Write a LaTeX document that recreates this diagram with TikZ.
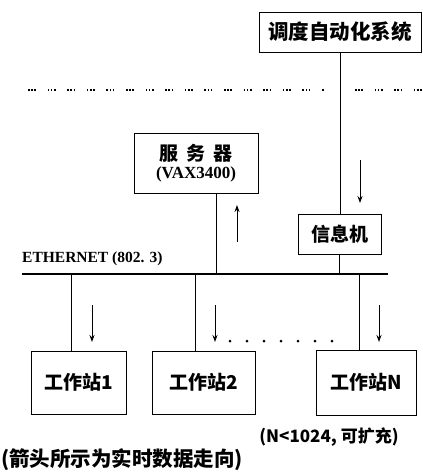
\documentclass[tikz,border=0pt]{standalone}
\usepackage{fontspec}
\setmainfont{Liberation Serif}
\newfontfamily\cjk{Noto Sans CJK SC}
\usetikzlibrary{arrows.meta}
\begin{document}
\begin{tikzpicture}[x=1pt,y=-1pt,
  box/.style={draw,line width=1pt,inner sep=0pt,font=\cjk\bfseries\fontsize{19}{21}\selectfont},
  link/.style={line width=0.9pt},
  flow/.style={line width=1pt,-{Stealth[length=7pt,width=5pt]}},
  bus/.style={line width=1.8pt},
  dotsep/.style={line width=2pt,dash pattern=on 1.6pt off 1.6pt on 1.6pt off 1.6pt on 1.6pt off 11.6pt}]
\useasboundingbox (0,0) rectangle (423,472);
% boxes
\node[box,minimum width=162pt,minimum height=40pt,font=\cjk\bfseries\fontsize{20.5}{22}\selectfont] (sys) at (340,32) {调度自动化系统};
\node[box,minimum width=124pt,minimum height=60pt,align=center] (srv) at (196,163)
  {服\hspace{8pt}务\hspace{8pt}器\\[-3pt]{\rmfamily\bfseries\fontsize{17}{19}\selectfont(VAX3400)}};
\node[box,minimum width=83pt,minimum height=40pt] (info) at (339.5,234) {信息机};
\node[box,minimum width=95pt,minimum height=63pt] (ws1) at (78.5,382.5) {工作站1};
\node[box,minimum width=103pt,minimum height=63pt] (ws2) at (203.5,382.5) {工作站2};
\node[box,minimum width=100pt,minimum height=65pt] (wsn) at (366,382.5) {工作站N};
% dotted separator
\coordinate (dA) at (28,90); \coordinate (dB) at (325,90);
\coordinate (dC) at (355,90); \coordinate (dD) at (423,90);
\draw[dotsep] (dA) -- (dB);
\draw[dotsep] (dC) -- (dD);
% ethernet bus
\coordinate (eL) at (22,274); \coordinate (eR) at (388,274);
\draw[bus] (eL) -- (eR);
\node[anchor=south west,inner sep=0pt,font=\bfseries\fontsize{15.5}{17}\selectfont] (eth) at (22,266) {ETHERNET (802. 3)};
% connections
\draw[link] (sys.south) -- (sys.south |- info.north);
\draw[link] (info.south) -- (info.south |- eL);
\coordinate (sdrop) at (216,274);
\draw[link] (srv.south -| sdrop) -- (sdrop);
\coordinate (t1) at (71,274); \coordinate (t2) at (195,274); \coordinate (t3) at (359,274);
\draw[link] (t1) -- (t1 |- ws1.north);
\draw[link] (t2) -- (t2 |- ws2.north);
\draw[link] (t3) -- (t3 |- wsn.north);
% flow arrows
\coordinate (ua) at (237,242); \coordinate (ub) at (237,205);
\draw[flow] (ua) -- (ub);
\coordinate (ia) at (360,160); \coordinate (ib) at (360,203);
\draw[flow] (ia) -- (ib);
\coordinate (a1) at (92,305); \coordinate (b1) at (92,342);
\coordinate (a2) at (215,305); \coordinate (b2) at (215,342);
\coordinate (a3) at (379,305); \coordinate (b3) at (379,342);
\draw[flow] (a1) -- (b1);
\draw[flow] (a2) -- (b2);
\draw[flow] (a3) -- (b3);
% row of dots
\foreach \i in {0,...,6} { \fill (230+17*\i,341) circle (1.5pt); }
% captions
\node[inner sep=0pt,font=\cjk\bfseries\fontsize{17}{19}\selectfont] (cap1) at (329,437) {(N<1024, 可扩充)};
\node[anchor=west,inner sep=0pt,font=\cjk\bfseries\fontsize{20.5}{22}\selectfont] (cap2) at (1,460) {(箭头所示为实时数据走向)};
\end{tikzpicture}
\end{document}
